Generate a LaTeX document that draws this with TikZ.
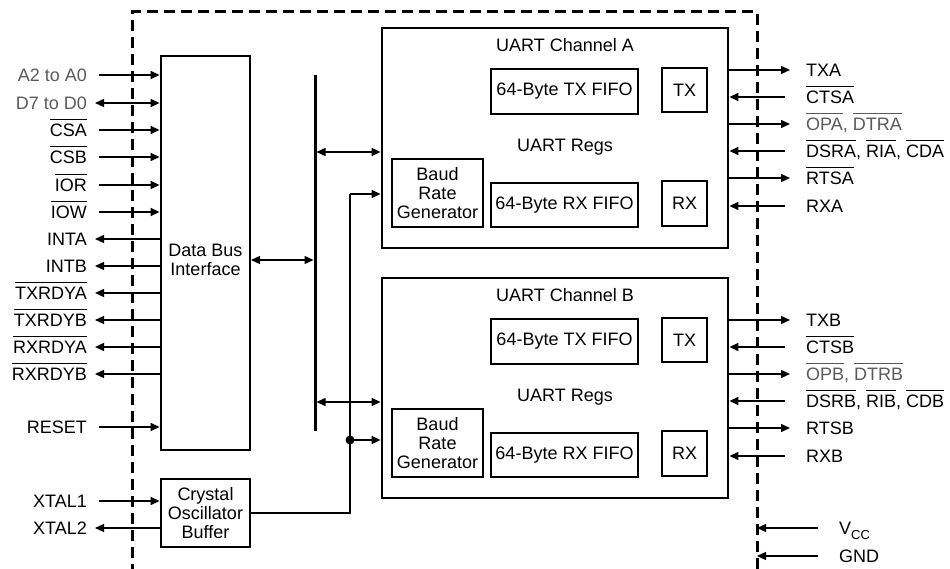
\documentclass[tikz,border=0pt]{standalone}
\usepackage{fontspec}
\setmainfont{Liberation Sans}
\usetikzlibrary{arrows.meta}
\definecolor{sig}{HTML}{5A5A5A}
\newcommand\ovl[1]{\leavevmode\vbox{\hrule height 1pt\kern 4pt\hbox{#1}}}
\begin{document}
\begin{tikzpicture}[x=1pt,y=-1pt,
  font=\fontsize{18}{19}\selectfont,
  >={Triangle[length=9pt,width=8pt]},
  bigbox/.style={draw,line width=2.8pt,inner sep=0pt,align=center},
  smallbox/.style={draw,line width=1.2pt,inner sep=0pt,align=center},
  lbl/.style={inner sep=0pt,text height=13pt,text depth=0pt},
  lblL/.style={lbl,anchor=east},
  lblR/.style={lbl,anchor=west},
  wire/.style={line width=1.4pt},
  border/.style={line width=3pt,dash pattern=on 11pt off 6pt},
  txt/.style={inner sep=0pt,align=center}]
\useasboundingbox (0,0) rectangle (950,569);

% dashed chip border
\coordinate (dTL) at (132,12);
\coordinate (dTR) at (757,12);
\coordinate (dBL) at (132,575);
\coordinate (dBR) at (757,575);
\draw[border] (dBL) -- (dTL) -- (dTR) -- (dBR);

% main blocks
\node[bigbox,minimum width=89pt,minimum height=394pt] (db) at (205.5,253) {};
\node[txt] (dbt) at (205.5,260) {Data Bus\\Interface};
\node[bigbox,minimum width=89pt,minimum height=68pt] (xo) at (205.5,513) {Crystal\\Oscillator\\Buffer};

% UART A
\node[bigbox,minimum width=346pt,minimum height=220pt] (ua) at (555,138) {};
\node[txt] (uat) at (565,45) {UART Channel A};
\node[txt] (uar) at (565,147) {UART Regs};
\node[smallbox,minimum width=147pt,minimum height=45pt] (tfa) at (564.5,91.5) {64-Byte TX FIFO};
\node[smallbox,minimum width=45pt,minimum height=44pt] (txba) at (684.5,90) {TX};
\node[smallbox,minimum width=147pt,minimum height=44pt] (rfa) at (564.5,205) {64-Byte RX FIFO};
\node[smallbox,minimum width=45pt,minimum height=45pt] (rxba) at (684.5,203.5) {RX};
\node[smallbox,minimum width=91pt,minimum height=68pt] (bda) at (437.5,193) {Baud\\Rate\\Generator};

% UART B
\node[bigbox,minimum width=346pt,minimum height=220pt] (ub) at (555,388) {};
\node[txt] (ubt) at (565,295) {UART Channel B};
\node[txt] (ubr) at (565,397) {UART Regs};
\node[smallbox,minimum width=147pt,minimum height=45pt] (tfb) at (564.5,341.5) {64-Byte TX FIFO};
\node[smallbox,minimum width=45pt,minimum height=44pt] (txbb) at (684.5,340) {TX};
\node[smallbox,minimum width=147pt,minimum height=44pt] (rfb) at (564.5,455) {64-Byte RX FIFO};
\node[smallbox,minimum width=45pt,minimum height=45pt] (rxbb) at (684.5,453.5) {RX};
\node[smallbox,minimum width=91pt,minimum height=68pt] (bdb) at (437.5,443) {Baud\\Rate\\Generator};

% internal bus
\coordinate (busT) at (315,75);
\coordinate (busB) at (315,431);
\draw[line width=3pt] (busT) -- (busB);
\coordinate (dbio) at (251,260);
\draw[wire,<->,shorten >=1.5pt] (dbio) -- (dbio -| busT);
\coordinate (bA) at (315,152);
\coordinate (bB) at (315,402);
\draw[wire,<->,shorten <=1.5pt] (bA) -- (bA -| ua.west);
\draw[wire,<->,shorten <=1.5pt] (bB) -- (bB -| ub.west);

% clock
\coordinate (cA) at (350,194);
\coordinate (cB) at (350,440);
\draw[wire] (xo.east) -| (cA);
\draw[wire,->] (cA) -- (cA -| ua.west);
\draw[wire,->] (cB) -- (cB -| ub.west);
\fill (cB) circle (4.5pt);

% left signals
\node[lblL,text=sig] (a2) at (87,75) {A2 to A0};
\node[lblL,text=sig] (d7) at (87,103) {D7 to D0};
\node[lblL] (csa) at (87,130) {\ovl{CSA}};
\node[lblL] (csb) at (87,157) {\ovl{CSB}};
\node[lblL] (ior) at (87,185) {\ovl{IOR}};
\node[lblL] (iow) at (87,212) {\ovl{IOW}};
\node[lblL] (inta) at (87,239) {INTA};
\node[lblL] (intb) at (87,266) {INTB};
\node[lblL] (trya) at (87,293) {\ovl{TXRDYA}};
\node[lblL] (tryb) at (87,320) {\ovl{TXRDYB}};
\node[lblL] (rrya) at (87,347) {\ovl{RXRDYA}};
\node[lblL] (rryb) at (87,374) {\ovl{RXRDYB}};
\node[lblL] (rst) at (87,427) {RESET};
\node[lblL] (xt1) at (87,501) {XTAL1};
\node[lblL] (xt2) at (87,528) {XTAL2};

\foreach \n in {a2,csa,csb,ior,iow,rst}
  \draw[wire,->,shorten <=12pt] (\n.east) -- (\n.east -| db.west);
\draw[wire,<->,shorten <=8pt] (d7.east) -- (d7.east -| db.west);
\foreach \n in {inta,intb,trya,tryb,rrya,rryb}
  \draw[wire,->,shorten >=8pt] (\n.east -| db.west) -- (\n.east);
\draw[wire,->,shorten <=12pt] (xt1.east) -- (xt1.east -| xo.west);
\draw[wire,->,shorten >=8pt] (xt2.east -| xo.west) -- (xt2.east);

% right signals A
\node[lblR] (txa) at (806,70) {TXA};
\node[lblR] (ctsa) at (806,97) {\ovl{CTSA}};
\node[lblR,text=sig] (opa) at (806,124) {\ovl{OPA}, \ovl{DTRA}};
\node[lblR] (dsra) at (806,151) {\ovl{DSRA}, \ovl{RIA}, \ovl{CDA}};
\node[lblR] (rtsa) at (806,178) {\ovl{RTSA}};
\node[lblR] (rxa) at (806,206) {RXA};
% right signals B
\node[lblR] (txb) at (806,320) {TXB};
\node[lblR] (ctsb) at (806,347) {\ovl{CTSB}};
\node[lblR,text=sig] (opb) at (806,374) {\ovl{OPB}, \ovl{DTRB}};
\node[lblR] (dsrb) at (806,401) {\ovl{DSRB}, \ovl{RIB}, \ovl{CDB}};
\node[lblR] (rtsb) at (806,428) {RTSB};
\node[lblR] (rxb) at (806,456) {RXB};

\foreach \n in {txa,opa,rtsa}
  \draw[wire,->,shorten >=16pt] (\n.west -| ua.east) -- (\n.west);
\foreach \n in {ctsa,dsra,rxa}
  \draw[wire,->,shorten <=21pt] (\n.west) -- (\n.west -| ua.east);
\foreach \n in {txb,opb,rtsb}
  \draw[wire,->,shorten >=16pt] (\n.west -| ub.east) -- (\n.west);
\foreach \n in {ctsb,dsrb,rxb}
  \draw[wire,->,shorten <=21pt] (\n.west) -- (\n.west -| ub.east);

% power
\node[lblR] (vcc) at (839,528) {V\raisebox{-5pt}{\fontsize{13}{13}\selectfont CC}};
\node[lblR] (gnd) at (839,556) {GND};
\draw[wire,->,shorten <=21pt] (vcc.west) -- (vcc.west -| dTR);
\draw[wire,->,shorten <=21pt] (gnd.west) -- (gnd.west -| dTR);
\end{tikzpicture}
\end{document}
